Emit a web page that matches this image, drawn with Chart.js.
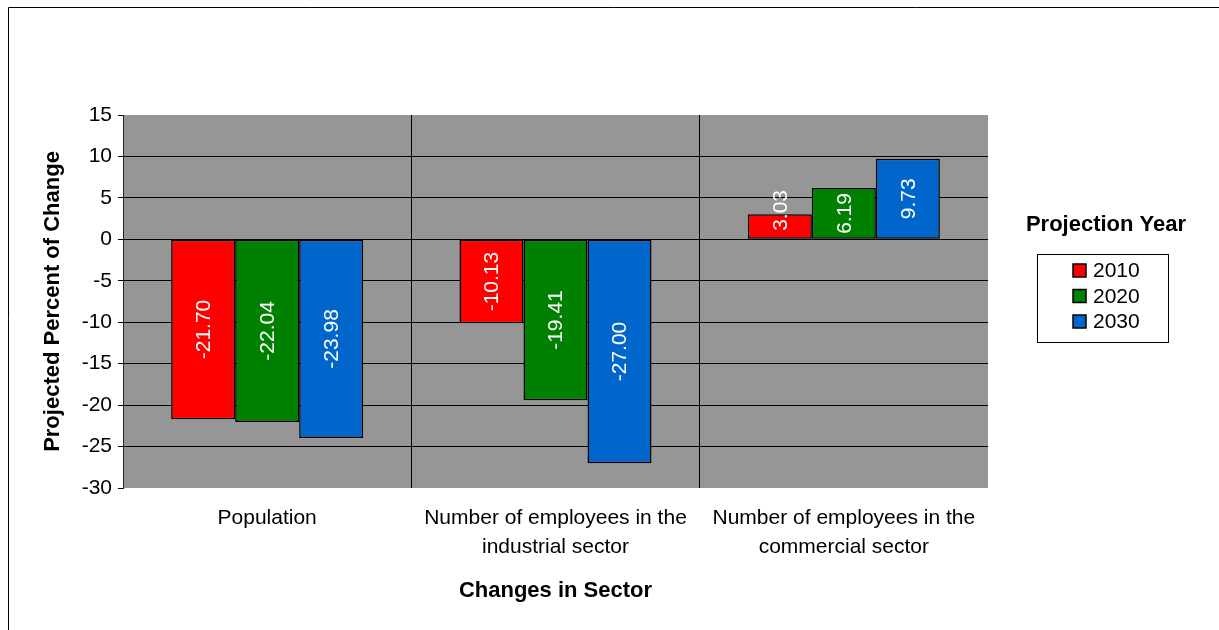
<!DOCTYPE html>
<html>
<head>
<meta charset="utf-8">
<title>Projected Percent of Change</title>
<script src="https://cdn.jsdelivr.net/npm/chart.js@4/dist/chart.umd.min.js"></script>
<style>
    html, body { margin: 0; padding: 0; background: #fff; }
    canvas { display: block; }
</style>
</head>
<body>
<canvas id="chart" width="1219" height="630"></canvas>
<script>
const categories = [
    ['Population'],
    ['Number of employees in the', 'industrial sector'],
    ['Number of employees in the', 'commercial sector']
];
const years = ['2010', '2020', '2030'];
const values2010 = [-21.70, -10.13, 3.03];
const values2020 = [-22.04, -19.41, 6.19];
const values2030 = [-23.98, -27.00, 9.73];
const yTicks = { min: -30, max: 15, step: 5 };

const FONT = "'Liberation Sans', Arial, sans-serif";
const colors = ['#ff0000', '#008000', '#0066cc'];

// fond blanc, cadre exterieur et zone grise
const backdrop = {
    id: 'backdrop',
    beforeDraw(chart) {
        const { ctx, chartArea: a } = chart;
        ctx.save();
        ctx.fillStyle = '#fff';
        ctx.fillRect(0, 0, chart.width, chart.height);
        ctx.strokeStyle = '#000';
        ctx.lineWidth = 1;
        ctx.beginPath();
        ctx.moveTo(8.5, chart.height);
        ctx.lineTo(8.5, 7.5);
        ctx.lineTo(chart.width, 7.5);
        ctx.stroke();
        ctx.fillStyle = '#969696';
        ctx.fillRect(a.left, a.top, a.right - a.left, a.bottom - a.top);
        ctx.restore();
    }
};

// valeurs en blanc, tournees, au centre des barres
const barLabels = {
    id: 'barLabels',
    afterDatasetsDraw(chart) {
        const { ctx } = chart;
        ctx.save();
        ctx.font = '21px ' + FONT;
        ctx.fillStyle = '#fff';
        ctx.textAlign = 'center';
        ctx.textBaseline = 'middle';
        chart.data.datasets.forEach((ds, i) => {
            chart.getDatasetMeta(i).data.forEach((bar, j) => {
                const v = ds.data[j];
                const txt = v.toFixed(2);
                const w = ctx.measureText(txt).width;
                const h = Math.abs(bar.base - bar.y);
                let cy = (bar.y + bar.base) / 2;
                if (w + 8 > h) {
                    cy = v >= 0 ? bar.base - 8 - w / 2 : bar.base + 8 + w / 2;
                }
                ctx.save();
                ctx.translate(bar.x, cy);
                ctx.rotate(-Math.PI / 2);
                ctx.fillText(txt, 0, 1);
                ctx.restore();
            });
        });
        ctx.restore();
    }
};

// legende avec titre et cadre
const legendBox = {
    id: 'legendBox',
    afterDraw(chart) {
        const { ctx } = chart;
        ctx.save();
        ctx.fillStyle = '#000';
        ctx.textBaseline = 'middle';
        ctx.textAlign = 'center';
        ctx.font = 'bold 22px ' + FONT;
        ctx.fillText('Projection Year', 1106, 225);

        ctx.strokeStyle = '#000';
        ctx.lineWidth = 1;
        ctx.strokeRect(1037.5, 254.5, 131, 88);

        ctx.font = '21px ' + FONT;
        ctx.textAlign = 'left';
        chart.data.datasets.forEach((ds, i) => {
            const cy = 270.5 + i * 25.5;
            ctx.fillStyle = ds.backgroundColor;
            ctx.fillRect(1073, cy - 6.5, 13, 13);
            ctx.strokeStyle = '#000';
            ctx.lineWidth = 1.5;
            ctx.strokeRect(1073, cy - 6.5, 13, 13);
            ctx.fillStyle = '#000';
            ctx.fillText(ds.label, 1093, cy + 1);
        });
        ctx.restore();
    }
};

const seriesValues = [values2010, values2020, values2030];

new Chart(document.getElementById('chart'), {
    type: 'bar',
    data: {
        labels: categories,
        datasets: years.map((y, i) => ({
            label: y,
            data: seriesValues[i],
            backgroundColor: colors[i],
            borderColor: '#000',
            borderWidth: 1.5,
            borderSkipped: false,
            barPercentage: 1,
            categoryPercentage: 0.666
        }))
    },
    options: {
        responsive: false,
        animation: false,
        events: [],
        layout: { padding: { top: 115, right: 231, left: 0, bottom: 0 } },
        plugins: {
            legend: { display: false },
            tooltip: { enabled: false }
        },
        scales: {
            x: {
                afterFit: (s) => { s.height = 142; },
                grid: {
                    offset: true,
                    drawTicks: false,
                    color: (c) => (c.index === 1 || c.index === 2) ? '#000' : 'rgba(0,0,0,0)',
                    lineWidth: 1
                },
                border: { display: false },
                ticks: {
                    color: '#000',
                    font: { family: FONT, size: 21, lineHeight: 1.38 },
                    padding: 16,
                    maxRotation: 0,
                    autoSkip: false
                },
                title: {
                    display: true,
                    text: 'Changes in Sector',
                    color: '#000',
                    font: { family: FONT, size: 22, weight: 'bold' },
                    padding: { top: 0, bottom: 26 }
                }
            },
            y: {
                min: yTicks.min,
                max: yTicks.max,
                afterFit: (s) => { s.width = 123; },
                grid: {
                    color: (c) => (c.tick && (c.tick.value === yTicks.max || c.tick.value === yTicks.min)) ? 'rgba(0,0,0,0)' : '#000',
                    tickColor: '#000',
                    tickLength: 5,
                    lineWidth: 1
                },
                border: { display: true, color: '#222', width: 1 },
                ticks: {
                    stepSize: yTicks.step,
                    color: '#000',
                    font: { family: FONT, size: 21 },
                    padding: 6
                },
                title: {
                    display: true,
                    text: 'Projected Percent of Change',
                    color: '#000',
                    font: { family: FONT, size: 22, weight: 'bold' },
                    padding: { top: 40, bottom: 0 }
                }
            }
        }
    },
    plugins: [backdrop, barLabels, legendBox]
});
</script>
</body>
</html>
